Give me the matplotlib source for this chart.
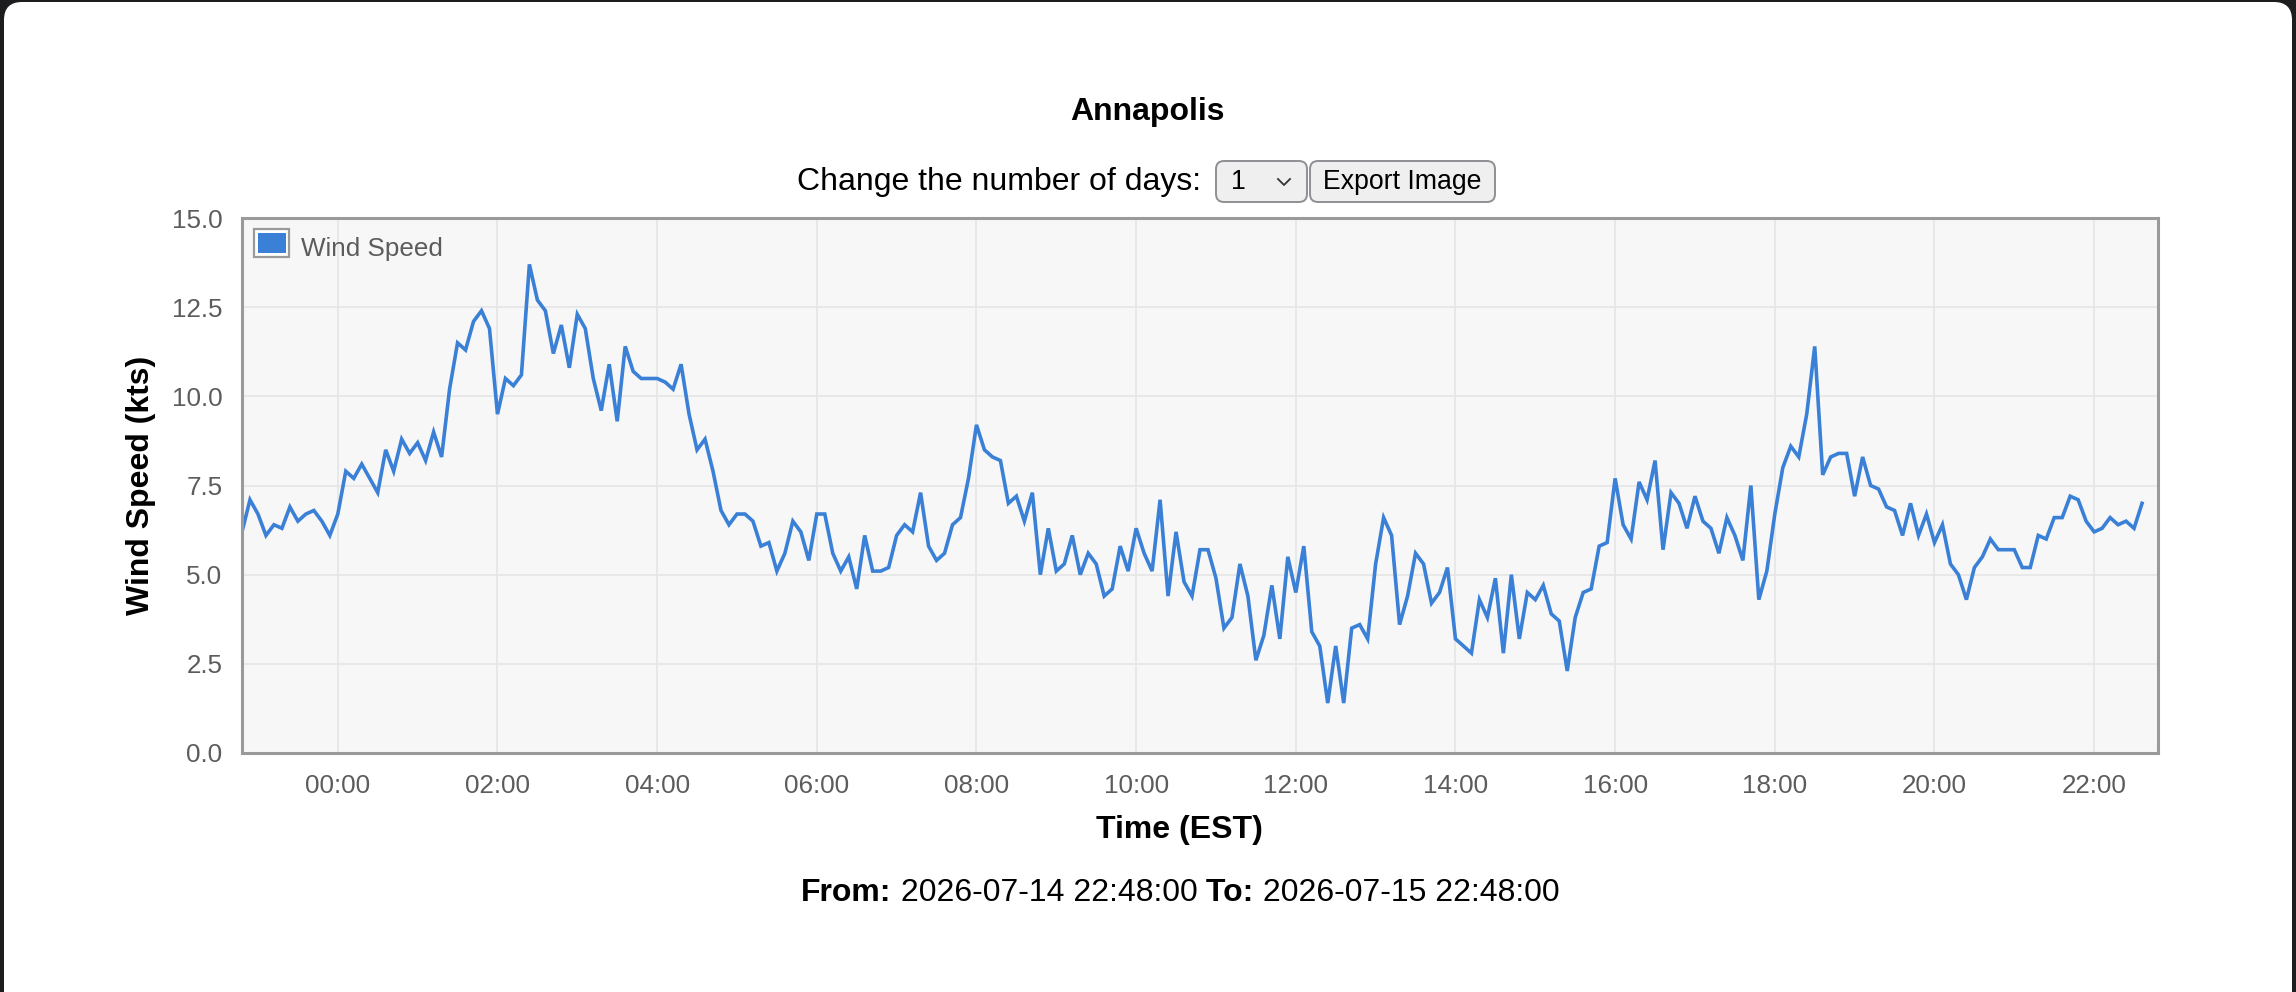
import pandas as pd
import matplotlib
matplotlib.use("Agg")
import matplotlib.pyplot as plt
import matplotlib.dates as mdates
from matplotlib.patches import FancyBboxPatch, Rectangle
from matplotlib.lines import Line2D
from matplotlib.transforms import IdentityTransform
from matplotlib.ticker import FormatStrFormatter

plt.rcParams['font.family'] = ['Liberation Sans', 'DejaVu Sans']

# ---- data (one reading every 6 minutes) ----
station = "Annapolis"
start = "2026-07-14 22:48:00"
end = "2026-07-15 22:48:00"
days_choice = "1"
wind_kts = [
    6.2, 7.1, 6.7, 6.1, 6.4, 6.3, 6.9, 6.5, 6.7, 6.8, 6.5, 6.1, 6.7, 7.9, 7.7, 8.1,
    7.7, 7.3, 8.5, 7.9, 8.8, 8.4, 8.7, 8.2, 9.0, 8.3, 10.2, 11.5, 11.3, 12.1, 12.4, 11.9,
    9.5, 10.5, 10.3, 10.6, 13.7, 12.7, 12.4, 11.2, 12.0, 10.8, 12.3, 11.9, 10.5, 9.6, 10.9, 9.3,
    11.4, 10.7, 10.5, 10.5, 10.5, 10.4, 10.2, 10.9, 9.5, 8.5, 8.8, 7.9, 6.8, 6.4, 6.7, 6.7,
    6.5, 5.8, 5.9, 5.1, 5.6, 6.5, 6.2, 5.4, 6.7, 6.7, 5.6, 5.1, 5.5, 4.6, 6.1, 5.1,
    5.1, 5.2, 6.1, 6.4, 6.2, 7.3, 5.8, 5.4, 5.6, 6.4, 6.6, 7.7, 9.2, 8.5, 8.3, 8.2,
    7.0, 7.2, 6.5, 7.3, 5.0, 6.3, 5.1, 5.3, 6.1, 5.0, 5.6, 5.3, 4.4, 4.6, 5.8, 5.1,
    6.3, 5.6, 5.1, 7.1, 4.4, 6.2, 4.8, 4.4, 5.7, 5.7, 4.9, 3.5, 3.8, 5.3, 4.4, 2.6,
    3.3, 4.7, 3.2, 5.5, 4.5, 5.8, 3.4, 3.0, 1.4, 3.0, 1.4, 3.5, 3.6, 3.2, 5.3, 6.6,
    6.1, 3.6, 4.4, 5.6, 5.3, 4.2, 4.5, 5.2, 3.2, 3.0, 2.8, 4.3, 3.8, 4.9, 2.8, 5.0,
    3.2, 4.5, 4.3, 4.7, 3.9, 3.7, 2.3, 3.8, 4.5, 4.6, 5.8, 5.9, 7.7, 6.4, 6.0, 7.6,
    7.1, 8.2, 5.7, 7.3, 7.0, 6.3, 7.2, 6.5, 6.3, 5.6, 6.6, 6.1, 5.4, 7.5, 4.3, 5.1,
    6.7, 8.0, 8.6, 8.3, 9.5, 11.4, 7.8, 8.3, 8.4, 8.4, 7.2, 8.3, 7.5, 7.4, 6.9, 6.8,
    6.1, 7.0, 6.1, 6.7, 5.9, 6.4, 5.3, 5.0, 4.3, 5.2, 5.5, 6.0, 5.7, 5.7, 5.7, 5.2,
    5.2, 6.1, 6.0, 6.6, 6.6, 7.2, 7.1, 6.5, 6.2, 6.3, 6.6, 6.4, 6.5, 6.3, 7.0,
]
times = pd.date_range(start, periods=len(wind_kts), freq="6min")
y_ticks = [0, 2.5, 5, 7.5, 10, 12.5, 15]

W, H = 2296, 992
fig = plt.figure(figsize=(W / 100, H / 100), dpi=100, facecolor='#1d1d1f')
px = IdentityTransform()


def Y(y):
    # pixel row from the top -> display coordinate
    return H - y


# white window card (behind everything)
fig.add_artist(FancyBboxPatch((4, Y(1100)), 2288, 1098,
                              boxstyle="round,pad=0,rounding_size=18",
                              fc='white', ec='none', transform=px, zorder=-5))

# ---- chart ----
ax = fig.add_axes([242 / W, 1 - 753 / H, (2158 - 242) / W, (753 - 218) / H])
ax.set_zorder(1)
ax.set_facecolor('#f7f7f7')
ax.plot(times, wind_kts, color='#3a80d6', lw=2.6, solid_joinstyle='miter')
ax.set_xlim(pd.Timestamp(start), pd.Timestamp(end))
ax.set_ylim(0, 15)
ax.set_yticks(y_ticks)
ax.yaxis.set_major_formatter(FormatStrFormatter('%.1f'))
ax.xaxis.set_major_locator(mdates.HourLocator(byhour=range(0, 24, 2)))
ax.xaxis.set_major_formatter(mdates.DateFormatter('%H:%M'))
ax.tick_params(length=0, labelsize=18.7, labelcolor='#5c5c5c')
ax.tick_params(axis='x', pad=15)
ax.tick_params(axis='y', pad=14)
ax.grid(color='#e6e6e6', lw=1.2)
ax.set_axisbelow(True)
for s in ax.spines.values():
    s.set_color('#9a9a9a')
    s.set_linewidth(2.2)

# legend
fig.add_artist(Rectangle((254, Y(257)), 35, 28, fc='white', ec='#9a9a9a', lw=1.6, transform=px, zorder=5))
fig.add_artist(Rectangle((258, Y(253)), 28, 20, fc='#3a80d6', ec='none', transform=px, zorder=6))
fig.text(301, Y(256), "Wind Speed", fontsize=18.7, color='#5c5c5c', va='baseline', transform=px, zorder=6)

# axis titles
fig.text(141, Y(485), "Wind Speed (kts)", rotation=90, fontsize=23, fontweight='bold',
         ha='center', va='center', transform=px)
fig.text(1179, Y(830), "Time (EST)", fontsize=23, fontweight='bold',
         ha='center', va='center', transform=px)

# ---- page header ----
fig.text(1147, Y(112), station, fontsize=23, fontweight='bold', ha='center', va='center', transform=px)
fig.text(797, Y(182), "Change the number of days:", fontsize=23, va='center', transform=px)

fig.add_artist(FancyBboxPatch((1216, Y(202)), 91, 41, boxstyle="round,pad=0,rounding_size=8",
                              fc='#efeff0', ec='#8f8f94', lw=1.4, transform=px))
fig.text(1231, Y(182), days_choice, fontsize=19.2, va='center', transform=px)
fig.add_artist(Line2D([1278, 1284, 1290], [Y(179), Y(185), Y(179)], color='#333333', lw=1.3, transform=px))

fig.add_artist(FancyBboxPatch((1310, Y(202)), 185, 41, boxstyle="round,pad=0,rounding_size=8",
                              fc='#efeff0', ec='#8f8f94', lw=1.4, transform=px))
fig.text(1402, Y(182), "Export Image", fontsize=19.2, ha='center', va='center', transform=px)

# ---- from / to line ----
fig.canvas.draw()
r = fig.canvas.get_renderer()
x = 801
for txt, wt in [("From:", 'bold'), (" " + start, 'normal'), (" To:", 'bold'), (" " + end, 'normal')]:
    t = fig.text(x, Y(893), txt, fontsize=23, fontweight=wt, va='center', transform=px)
    x = t.get_window_extent(r).x1

fig.savefig('out.png', dpi=100, facecolor=fig.get_facecolor())
